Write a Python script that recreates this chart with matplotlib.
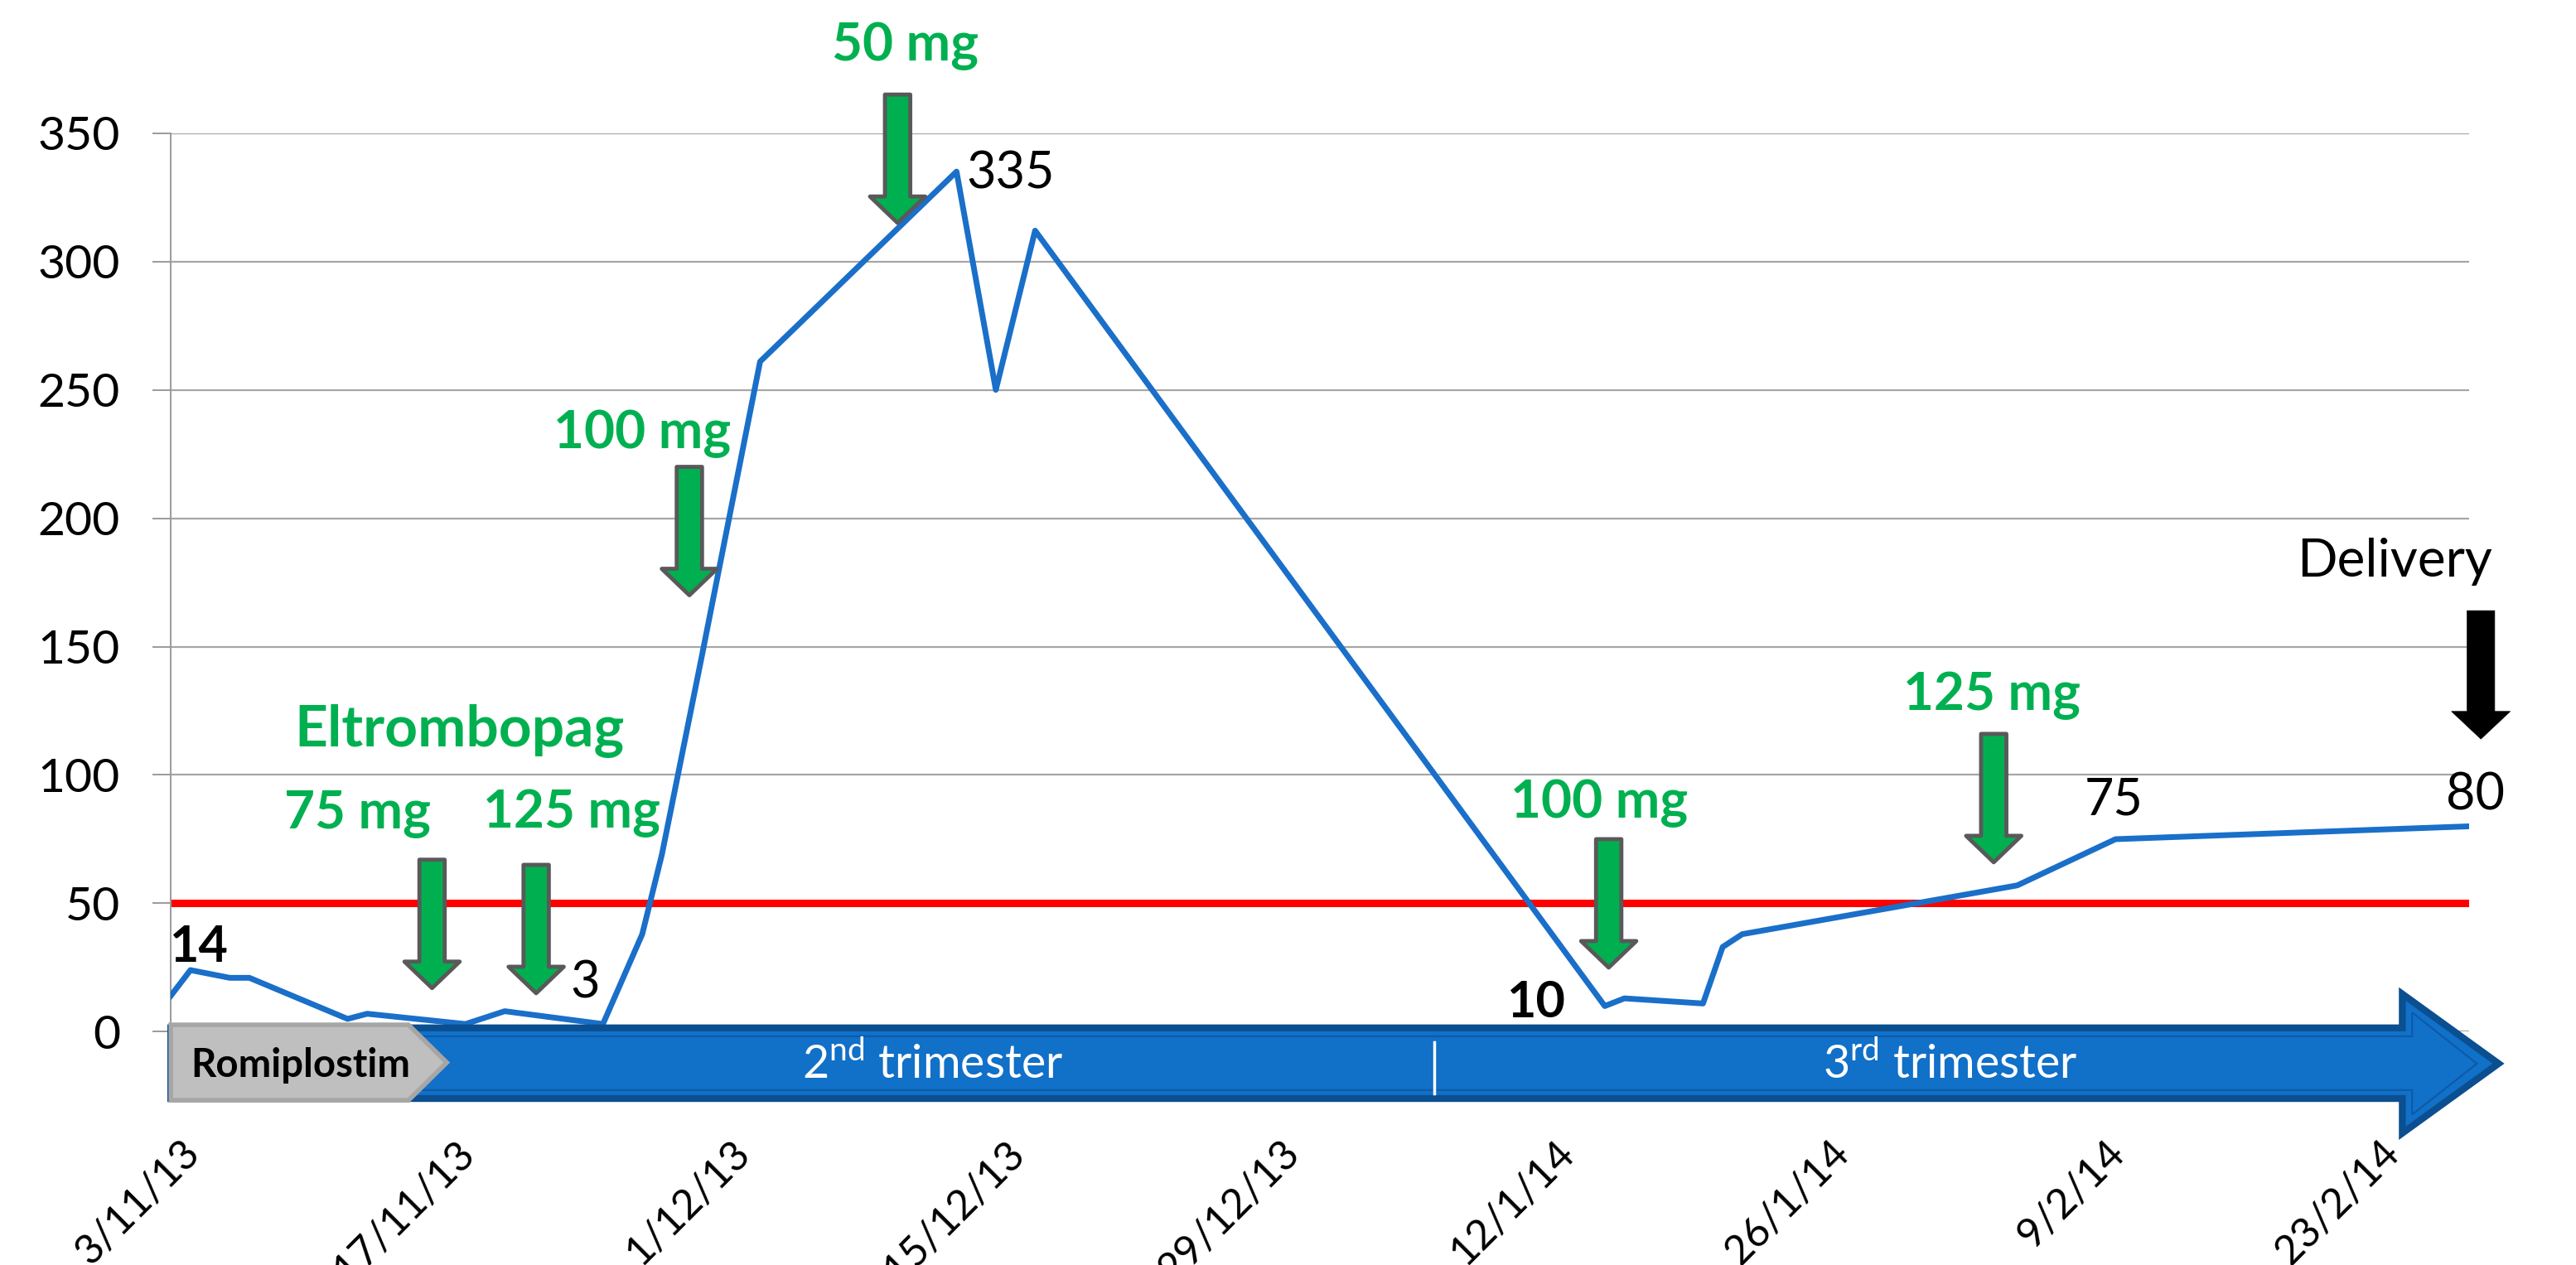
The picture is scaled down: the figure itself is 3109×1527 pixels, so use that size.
import numpy as np
import pandas as pd
import matplotlib
matplotlib.use('Agg')
import matplotlib.pyplot as plt
import matplotlib.dates as mdates
import matplotlib.transforms as mtrans
from matplotlib.patches import Polygon, FancyArrowPatch

plt.rcParams['font.family'] = ['Lato', 'DejaVu Sans']
plt.rcParams['mathtext.fontset'] = 'custom'
plt.rcParams['mathtext.rm'] = 'Lato'

# platelet count over time
dates = ['3/11/13', '4/11/13', '6/11/13', '7/11/13', '12/11/13', '13/11/13',
         '18/11/13', '20/11/13', '25/11/13', '27/11/13', '28/11/13', '30/11/13',
         '3/12/13', '13/12/13', '15/12/13', '17/12/13', '15/1/14', '16/1/14',
         '20/1/14', '21/1/14', '22/1/14', '5/2/14', '10/2/14', '28/2/14']
counts = [14, 24, 21, 21, 5, 7, 3, 8, 3, 38, 69, 145,
          261, 335, 250, 312, 10, 13, 11, 33, 38, 57, 75, 80]

tick_labels = ['3/11/13', '17/11/13', '1/12/13', '15/12/13', '29/12/13',
               '12/1/14', '26/1/14', '9/2/14', '23/2/14']
threshold = 50

# value labels (text, index into series)
value_labels = [('14', 0), ('3', 8), ('335', 13), ('10', 16), ('75', 22), ('80', 23)]

# eltrombopag doses: label, arrow day offset from start, arrow top value
doses = ['75 mg', '125 mg', '100 mg', '50 mg', '100 mg', '125 mg']
dose_days = [13.3, 18.6, 26.4, 37.0, 73.2, 92.8]
dose_top = [67, 65, 220, 365, 75, 116]

to_num = lambda s: mdates.date2num(pd.to_datetime(s, format='%d/%m/%y'))
x = np.array([to_num(d) for d in dates])
x0 = x[0]
y = np.array(counts)

fig = plt.figure(figsize=(31.09, 15.27), dpi=100)
ax = fig.add_axes([0.0663, 0.1844, 0.8922, 0.7104])

ax.set_xlim(x0, x[-1])
ax.set_ylim(0, 350)
ax.set_yticks(np.arange(0, 351, 50))
ax.yaxis.grid(True, color='#a6a6a6', lw=1.6)
ax.set_axisbelow(True)
for s in ['top', 'right', 'bottom']:
    ax.spines[s].set_visible(False)
ax.spines['left'].set_color('#9a9a9a')
ax.spines['left'].set_linewidth(1.4)
ax.tick_params(axis='y', direction='out', length=16, width=1.4, color='#9a9a9a',
               pad=28, labelsize=41)
ax.tick_params(axis='x', length=0, labelbottom=False)

# date labels under the timeline band
tick_x = [to_num(t) for t in tick_labels]
off = mtrans.ScaledTranslation(8 / 72, -88 / 72, fig.dpi_scale_trans)
for tx, tl in zip(tick_x, tick_labels):
    ax.text(tx, 0, tl, transform=ax.get_xaxis_transform() + off, rotation=45,
            ha='right', va='top', rotation_mode='anchor', fontsize=36, clip_on=False)

ax.axhline(threshold, color='#ff0000', lw=6.5, solid_capstyle='round', zorder=2)
ax.plot(x, y, color='#1a6fc9', lw=5, zorder=3)

bold_vals = {'14', '10'}
val_pos = {'14': (1.4, 33, 'center'), '3': (21.1, 19, 'center'), '335': (40.5, 334, 'left'),
           '10': (69.5, 11.5, 'center'), '75': (98.9, 90, 'center'), '80': (117.3, 92, 'center')}
for txt, i in value_labels:
    dx, dy, ha = val_pos[txt]
    ax.text(x0 + dx, dy, txt, ha=ha, va='center', fontsize=44,
            fontweight='bold' if txt in bold_vals else 'normal', zorder=6, clip_on=False)

# dose arrows
dose_lbl_pos = [(9.5, 85), (20.4, 85), (24.0, 233), (37.4, 384), (72.7, 89), (92.7, 131)]
for lab, d, top, (lx, ly) in zip(doses, dose_days, dose_top, dose_lbl_pos):
    arr = FancyArrowPatch((x0 + d, top), (x0 + d, top - 50),
                          arrowstyle='simple,head_length=2.3,head_width=4.8,tail_width=2.2',
                          mutation_scale=10, fc='#00b050', ec='#595959', lw=3.5,
                          shrinkA=0, shrinkB=0, zorder=5, clip_on=False)
    ax.add_patch(arr)
    ax.text(x0 + lx, ly, lab, ha='center', va='center', fontsize=46, fontweight='bold',
            color='#00b050', zorder=6, clip_on=False)

ax.text(x0 + 14.7, 117, 'Eltrombopag', ha='center', va='center', fontsize=50,
        fontweight='bold', color='#00b050', zorder=6)

# delivery
ax.add_patch(FancyArrowPatch((x0 + 117.6, 164), (x0 + 117.6, 114),
                             arrowstyle='simple,head_length=2.4,head_width=5.1,tail_width=2.4',
                             mutation_scale=10, fc='black', ec='black', lw=0.5,
                             shrinkA=0, shrinkB=0, zorder=5, clip_on=False))
ax.text(x0 + 113.2, 183, 'Delivery', ha='center', va='center', fontsize=46, zorder=6,
        clip_on=False)

# timeline band
band = Polygon([(x0, 1.5), (x0 + 113.6, 1.5), (x0 + 113.6, 14.7), (x0 + 118.5, -12.4),
                (x0 + 113.6, -39.5), (x0 + 113.6, -26), (x0, -26)], closed=True,
               fc='#1170c8', ec='#0b4f91', lw=6, joinstyle='miter', zorder=4, clip_on=False)
ax.add_patch(band)
inner = Polygon([(x0, -1.8), (x0 + 114.1, -1.8), (x0 + 114.1, 7.5), (x0 + 117.4, -12.4),
                 (x0 + 114.1, -32.3), (x0 + 114.1, -22.7), (x0, -22.7)], closed=True,
                fill=False, ec='#0d5aa6', lw=1.5, joinstyle='miter', zorder=4, clip_on=False)
ax.add_patch(inner)
romi = Polygon([(x0, 2.7), (x0 + 12.1, 2.7), (x0 + 14.05, -12), (x0 + 12.1, -26.7), (x0, -26.7)],
               closed=True, fc='#bfbfbf', ec='#a6a6a6', lw=4, zorder=5, clip_on=False)
ax.add_patch(romi)
ax.plot([x0 + 64.3, x0 + 64.3], [-4.2, -24], color='white', lw=2.5, zorder=5, clip_on=False)
ax.text(x0 + 6.6, -13, 'Romiplostim', ha='center', va='center', fontsize=34,
        fontweight='bold', zorder=6, clip_on=False)
ax.text(x0 + 38.8, -12.5, r'2$^{\mathrm{nd}}$ trimester', ha='center', va='center',
        fontsize=40, color='white', zorder=6, clip_on=False)
ax.text(x0 + 90.6, -12.5, r'3$^{\mathrm{rd}}$ trimester', ha='center', va='center',
        fontsize=40, color='white', zorder=6, clip_on=False)

fig.savefig('out.png', dpi=100, facecolor='white')
